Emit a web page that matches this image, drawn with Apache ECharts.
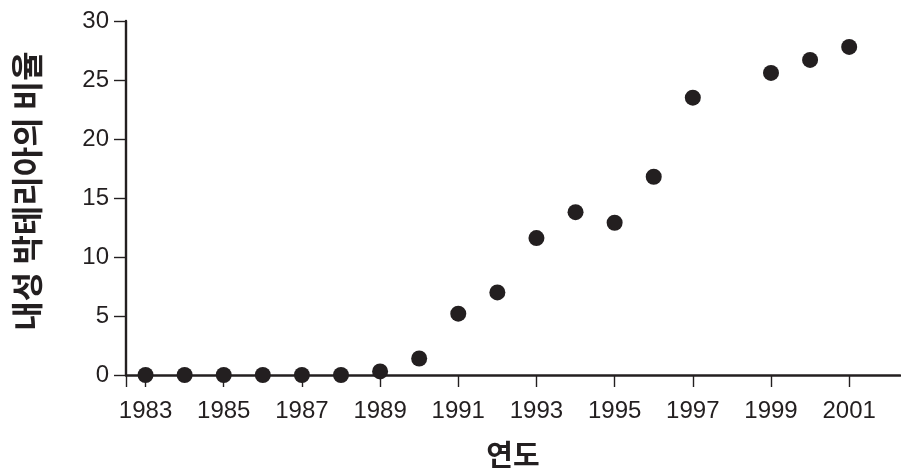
<!DOCTYPE html>
<html>
<head>
<meta charset="utf-8">
<script src="https://cdn.jsdelivr.net/npm/echarts@6/dist/echarts.min.js"></script>
<style>
html,body{margin:0;padding:0;background:#fff;}
#chart{width:901px;height:471px;}
</style>
</head>
<body>
<div id="chart"></div>
<script>
var years = [1983,1984,1985,1986,1987,1988,1989,1990,1991,1992,1993,1994,1995,1996,1997,1999,2000,2001];
var ratios = [0,0,0,0,0,0,0.3,1.4,5.2,7.0,11.6,13.8,12.9,16.8,23.5,25.6,26.7,27.8];
var xTickLabels = [1983,1985,1987,1989,1991,1993,1995,1997,1999,2001];
var yTickLabels = [0,5,10,15,20,25,30];
var xTitle = '연도';
var yTitle = '내성 박테리아의 비율';

var ink = '#231f20';
var numFont = '"Liberation Sans", Arial, Helvetica, sans-serif';
var krFont = '"Noto Sans CJK KR", "Noto Sans", sans-serif';

var points = years.map(function (y, i) { return [y, ratios[i]]; });

var chart = echarts.init(document.getElementById('chart'), null, {renderer: 'canvas'});
chart.setOption({
  animation: false,
  backgroundColor: '#fff',
  grid: {left: 126, right: 1, top: 21, bottom: 96, containLabel: false, outerBoundsMode: 'none'},
  xAxis: {
    type: 'value',
    min: 1982.5,
    max: 2002.3,
    name: xTitle,
    nameLocation: 'middle',
    nameGap: 65,
    nameTextStyle: {fontFamily: krFont, fontWeight: 'bold', fontSize: 29, color: ink, verticalAlign: 'top'},
    axisLine: {show: true, onZero: false, lineStyle: {color: ink, width: 2.6}},
    axisTick: {show: true, length: 12, inside: false, lineStyle: {color: ink, width: 1.4},
      customValues: [1982.5].concat(xTickLabels)},
    axisLabel: {show: true, margin: 24, fontFamily: numFont, fontSize: 24, color: ink,
      customValues: xTickLabels,
      formatter: function (v) { return String(v); }},
    splitLine: {show: false}
  },
  yAxis: {
    type: 'value',
    min: 0,
    max: 30,
    interval: 5,
    name: yTitle,
    nameLocation: 'middle',
    nameGap: 83,
    nameRotate: 90,
    nameTextStyle: {fontFamily: krFont, fontWeight: 'bold', fontSize: 32, color: ink, padding: [0, 0, 0, 14]},
    axisLine: {show: true, lineStyle: {color: ink, width: 2.4}},
    axisTick: {show: true, length: 12, inside: false, lineStyle: {color: ink, width: 1.4}},
    axisLabel: {show: true, margin: 17, fontFamily: numFont, fontSize: 24, color: ink,
      customValues: yTickLabels},
    splitLine: {show: false}
  },
  series: [{
    type: 'scatter',
    data: points,
    symbol: 'circle',
    symbolSize: 16,
    clip: false,
    itemStyle: {color: ink, opacity: 1}
  }]
});
</script>
</body>
</html>
